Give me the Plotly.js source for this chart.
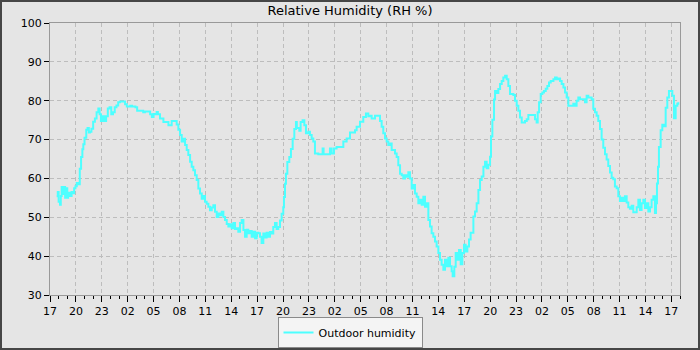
<!DOCTYPE html>
<html>
<head>
<meta charset="utf-8">
<script src="https://cdn.plot.ly/plotly-3.0.1.min.js"></script>
<style>
  html, body { margin: 0; padding: 0; background: #e5e5e5; }
  #wrap { position: relative; width: 700px; height: 350px; }
  #chart { width: 700px; height: 350px; }
  #frame { position: absolute; left: 0; top: 0; width: 700px; height: 350px; box-sizing: border-box; border: 2px solid #464646; pointer-events: none; }
</style>
</head>
<body>
<div id="wrap"><div id="chart"></div><div id="frame"></div></div>
<script>
// Start of the time series (17:00), hours measured from it
const startTime = [2024, 4, 10, 17];
const seriesName = "Outdoor humidity";
const chartTitle = "Relative Humidity (RH %)";

const hours = [
0.77,0.9,1.0,1.16,1.25,1.35,1.5,1.6,1.75,1.9,2.0,2.1,2.3,2.5,2.7,2.8,2.95,3.1,3.3,3.45,3.6,3.75,3.86,4.0,4.2,4.35,4.5,4.63,4.8,5.0,5.2,5.4,5.6,5.75,5.9,6.1,6.3,6.5,6.7,6.9,7.1,7.3,7.5,7.7,7.9,8.1,8.5,8.7,8.9,9.3,9.5,9.9,10.1,10.5,10.8,11.0,11.4,11.6,11.8,12.0,
12.17,12.36,12.5,12.75,13.14,13.52,13.72,14.1,14.49,14.68,14.87,15.07,15.26,15.45,15.65,15.84,16.03,16.23,16.42,16.61,16.8,17.0,17.19,17.38,17.58,17.77,17.96,18.15,18.35,18.54,18.74,18.93,19.12,19.32,19.51,19.7,19.9,20.09,20.28,20.48,20.67,20.86,21.05,21.25,21.44,21.63,21.82,22.02,22.21,22.41,22.6,22.79,22.98,23.17,23.37,23.56,23.76,23.95,24.14,
24.33,24.52,24.72,24.91,25.1,25.3,25.49,25.68,25.87,26.07,26.26,26.45,26.65,26.84,27.03,27.11,27.23,27.34,27.5,27.73,27.92,28.12,28.31,28.5,28.6,28.7,28.89,29.04,29.27,29.47,29.66,29.93,30.12,30.32,30.51,30.7,31.09,31.48,31.59,31.7,32.25,32.44,32.63,32.9,33.21,33.6,33.99,34.37,34.76,35.34,35.53,35.92,36.3,36.61,36.88,
37.08,37.27,37.47,37.66,38.05,38.24,38.43,38.62,38.82,39.01,39.2,39.4,39.59,39.98,40.17,40.36,40.56,40.75,40.94,41.13,41.33,41.52,41.71,41.91,42.1,42.29,42.49,42.68,42.87,43.07,43.26,43.45,43.65,43.84,44.03,44.22,44.42,44.61,44.8,45.0,45.19,45.38,45.58,45.77,45.96,46.16,46.35,46.54,46.66,46.85,47.01,47.2,47.39,47.59,47.78,47.97,48.16,48.36,48.55,48.74,
49.06,49.25,49.44,49.64,49.83,50.02,50.22,50.41,50.6,50.79,50.99,51.1,51.26,51.45,51.57,51.76,51.95,52.15,52.34,52.53,52.73,52.92,53.11,53.3,53.69,53.88,54.08,54.27,54.46,54.66,54.85,55.04,55.24,55.43,56.01,56.2,56.39,56.51,56.67,56.86,57.05,57.24,57.44,57.63,57.82,58.02,58.33,58.52,58.71,58.91,59.1,59.29,59.49,59.68,59.87,60.06,60.45,60.64,
60.83,61.02,61.22,61.41,61.8,61.99,62.18,62.38,62.57,62.76,62.95,63.15,63.34,63.53,63.73,63.92,64.11,64.31,64.5,64.69,64.89,65.08,65.27,65.46,65.66,65.85,66.04,66.24,66.43,66.62,66.82,67.01,67.2,67.4,67.59,67.78,67.98,68.17,68.36,68.55,68.75,68.94,69.13,69.33,69.52,69.71,69.91,70.1,70.22,70.33,70.45,70.56,70.76,70.95,71.14,71.34,71.53,71.72,71.92,72.11,72.3,72.5,72.69,72.8
];

const humidity = [
55.4,56.5,54.0,53.2,55.5,57.8,56.0,57.8,55.0,57.5,55.0,56.3,55.5,56.5,56.2,57.5,58.0,58.8,58.5,62.5,65.5,67.5,68.8,70.5,72.5,73.0,71.8,72.0,72.8,74.6,75.4,77.0,78.0,76.5,74.8,76.0,74.8,76.0,78.0,78.3,76.5,77.0,78.3,78.8,79.6,79.8,79.8,79.1,78.5,78.7,78.5,78.3,77.4,77.4,77.0,77.2,77.2,76.5,75.8,76.6,
76.5,77.1,76.5,75.4,74.5,74.5,73.7,74.8,74.8,73.9,72.5,71.2,69.5,70.2,68.6,67.3,66.0,64.3,63.0,62.1,60.8,59.6,57.4,56.1,54.8,55.5,54.0,53.5,52.7,51.8,52.5,53.1,51.4,50.1,51.0,50.5,51.4,50.1,49.3,48.3,47.6,48.2,47.2,48.5,47.0,47.2,46.3,48.5,49.3,46.7,45.0,46.8,45.9,46.5,45.0,46.3,44.6,46.0,45.9,
45.0,43.4,45.8,44.8,46.0,45.0,46.2,45.8,47.5,48.5,47.0,47.5,49.2,50.9,52.6,55.2,58.6,61.2,64.2,65.5,67.6,70.2,72.7,74.5,73.0,73.0,72.3,74.5,75.0,73.7,71.6,72.0,71.2,70.3,69.5,66.4,66.2,66.2,67.7,66.2,66.2,67.7,66.4,67.7,68.1,68.1,69.5,70.3,71.8,72.4,73.3,74.6,75.8,76.7,76.0,
76.1,75.4,75.4,76.1,76.1,74.8,73.3,71.6,70.3,69.5,68.6,69.0,67.3,66.4,65.5,63.4,61.2,60.8,60.0,60.8,60.4,61.6,60.0,57.4,58.3,56.1,55.3,53.6,54.5,53.2,55.3,52.7,53.6,49.3,47.6,45.9,45.0,43.8,42.5,40.8,39.1,37.8,36.5,39.1,37.4,39.6,37.4,36.1,34.8,37.3,40.8,39.1,41.6,37.9,40.8,42.9,41.2,42.5,44.3,46.0,
50.2,51.5,53.6,57.0,59.6,60.5,63.0,64.3,62.6,63.5,65.6,70.8,75.1,80.3,82.5,82.0,83.0,84.3,85.1,86.0,86.4,85.5,83.8,81.7,81.5,80.0,78.7,77.4,75.7,74.4,74.4,74.8,75.2,76.3,76.3,75.2,74.4,77.0,79.6,81.7,82.1,82.5,83.1,83.8,84.7,85.1,85.5,86.0,85.5,85.7,85.1,84.3,83.4,82.1,80.8,78.7,78.7,79.2,
78.7,80.0,80.8,80.4,80.4,79.6,81.3,80.8,80.8,80.4,77.9,77.0,76.1,74.8,72.7,70.0,67.9,66.2,64.9,63.2,61.5,60.2,59.8,57.9,57.5,55.4,54.2,55.0,54.2,55.4,53.8,52.6,52.2,53.0,51.3,51.3,52.6,54.5,51.9,53.6,54.5,52.4,53.6,51.5,52.6,54.5,55.4,51.1,53.6,58.7,63.0,68.1,72.4,73.8,73.4,78.2,80.8,82.5,82.5,81.3,75.5,78.7,79.2,79.6
];

const yTicks = [30, 40, 50, 60, 70, 80, 90, 100];

const startMs = Date.UTC(startTime[0], startTime[1], startTime[2], startTime[3], 0, 0);
function stamp(h) {
  return new Date(startMs + Math.round(h * 3600000)).toISOString().slice(0, 19).replace('T', ' ');
}
const times = hours.map(stamp);

const FONT = '"DejaVu Sans", Verdana, sans-serif';
const HOUR = 3600000;

const trace = {
  type: 'scatter',
  mode: 'lines',
  name: seriesName,
  x: times,
  y: humidity,
  line: { color: '#4dffff', width: 2, shape: 'hv' },
  showlegend: true
};

const layout = {
  width: 700,
  height: 350,
  margin: { l: 50, r: 20, t: 23, b: 55, pad: 0 },
  paper_bgcolor: '#e5e5e5',
  plot_bgcolor: '#e5e5e5',
  font: { family: FONT, size: 11, color: '#000' },
  title: {
    text: chartTitle,
    font: { family: FONT, size: 13, color: '#000' },
    x: 0.5, xref: 'container', xanchor: 'center',
    y: 0.97, yref: 'container', yanchor: 'middle'
  },
  xaxis: {
    type: 'date',
    range: [stamp(0), stamp(73)],
    tickmode: 'linear',
    tick0: stamp(0),
    dtick: 3 * HOUR,
    tickformat: '%H',
    ticks: 'outside',
    ticklen: 6,
    tickcolor: '#000',
    tickwidth: 1,
    showline: true,
    linecolor: '#999',
    linewidth: 1,
    mirror: true,
    showgrid: true,
    gridcolor: '#bdbdbd',
    gridwidth: 1,
    griddash: '4px,3px',
    zeroline: false,
    tickfont: { family: FONT, size: 11, color: '#000' },
    minor: { dtick: HOUR, ticks: 'outside', ticklen: 3, tickcolor: '#000', tickwidth: 1, showgrid: false },
    fixedrange: true
  },
  yaxis: {
    range: [30, 100],
    tickmode: 'array',
    tickvals: yTicks,
    ticktext: yTicks.map(String),
    ticks: 'outside',
    ticklen: 5,
    tickcolor: '#000',
    tickwidth: 1,
    showline: true,
    linecolor: '#999',
    linewidth: 1,
    mirror: true,
    showgrid: true,
    gridcolor: '#bdbdbd',
    gridwidth: 1,
    griddash: '4px,3px',
    zeroline: false,
    tickfont: { family: FONT, size: 11, color: '#000' },
    fixedrange: true
  },
  showlegend: true,
  legend: {
    orientation: 'h',
    xref: 'container', yref: 'container',
    x: 0.5, xanchor: 'center',
    y: 0.006, yanchor: 'bottom',
    bgcolor: '#f4f4f4',
    bordercolor: '#8a8a8a',
    borderwidth: 1,
    font: { family: FONT, size: 11, color: '#000' }
  }
};

Plotly.newPlot('chart', [trace], layout, { displayModeBar: false, staticPlot: true });
</script>
</body>
</html>
